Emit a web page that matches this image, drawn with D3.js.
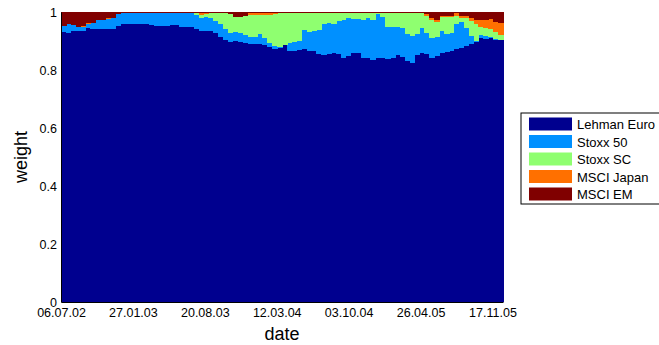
<!DOCTYPE html>
<html>
<head>
<meta charset="utf-8">
<script src="https://cdn.jsdelivr.net/npm/d3@7"></script>
<style>
  body { margin: 0; background: #fff; }
  svg { display: block; font-family: 'Liberation Sans', Arial, sans-serif; }
</style>
</head>
<body>
<svg id="chart" width="659" height="345"></svg>
<script>
// fortnightly portfolio weights, first bar starts 06.07.02
const startDate = '06.07.02';
const stepDays = 14;
const seriesNames = ['Lehman Euro', 'Stoxx 50', 'Stoxx SC', 'MSCI Japan', 'MSCI EM'];
const seriesColors = ['#00008f', '#0090ff', '#8fff70', '#ff7000', '#800000'];
const tickLabels = ['06.07.02', '27.01.03', '20.08.03', '12.03.04', '03.10.04', '26.04.05', '17.11.05'];
const yTicks = [0, 0.2, 0.4, 0.6, 0.8, 1];

const lehman = [0.931, 0.929, 0.933, 0.933, 0.934, 0.945, 0.941, 0.942, 0.942, 0.942,
  0.942, 0.953, 0.957, 0.959, 0.957, 0.959, 0.959, 0.959, 0.955, 0.952,
  0.952, 0.953, 0.955, 0.955, 0.948, 0.948, 0.948, 0.943, 0.936, 0.934,
  0.934, 0.928, 0.914, 0.902, 0.895, 0.900, 0.898, 0.893, 0.888, 0.891,
  0.890, 0.886, 0.878, 0.872, 0.876, 0.886, 0.864, 0.866, 0.869, 0.871,
  0.866, 0.866, 0.855, 0.852, 0.855, 0.859, 0.855, 0.841, 0.848, 0.859,
  0.859, 0.843, 0.840, 0.836, 0.841, 0.841, 0.838, 0.840, 0.852, 0.845,
  0.831, 0.824, 0.852, 0.859, 0.855, 0.841, 0.848, 0.859, 0.862, 0.866,
  0.872, 0.876, 0.884, 0.890, 0.898, 0.910, 0.907, 0.910, 0.905, 0.902];
const stoxx50 = [0.020, 0.028, 0.021, 0.014, 0.016, 0.014, 0.021, 0.031, 0.031, 0.033,
  0.037, 0.040, 0.039, 0.039, 0.040, 0.038, 0.038, 0.038, 0.041, 0.045,
  0.045, 0.043, 0.041, 0.041, 0.048, 0.048, 0.047, 0.045, 0.045, 0.050,
  0.045, 0.041, 0.045, 0.041, 0.033, 0.031, 0.029, 0.028, 0.026, 0.022,
  0.034, 0.024, 0.016, 0.010, 0.002, 0.000, 0.029, 0.029, 0.031, 0.067,
  0.066, 0.069, 0.083, 0.107, 0.107, 0.100, 0.114, 0.131, 0.131, 0.117,
  0.117, 0.128, 0.138, 0.136, 0.153, 0.141, 0.110, 0.109, 0.098, 0.100,
  0.093, 0.093, 0.072, 0.086, 0.072, 0.069, 0.066, 0.076, 0.062, 0.062,
  0.086, 0.090, 0.060, 0.028, 0.003, 0.010, 0.010, 0.003, 0.002, 0.002];
const stoxxSC = [0, 0, 0, 0, 0, 0, 0, 0, 0, 0,
  0, 0, 0, 0, 0, 0, 0, 0, 0, 0,
  0, 0, 0, 0, 0, 0, 0.002, 0.009, 0.009, 0.009,
  0.017, 0.028, 0.038, 0.052, 0.065, 0.052, 0.055, 0.065, 0.076, 0.076,
  0.066, 0.079, 0.096, 0.110, 0.119, 0.109, 0.103, 0.100, 0.097, 0.059,
  0.065, 0.062, 0.059, 0.038, 0.034, 0.038, 0.028, 0.024, 0.017, 0.021,
  0.021, 0.026, 0.019, 0.024, 0.002, 0.014, 0.048, 0.048, 0.047, 0.052,
  0.072, 0.079, 0.072, 0.052, 0.059, 0.062, 0.052, 0.048, 0.060, 0.056,
  0.028, 0.014, 0.034, 0.052, 0.057, 0.028, 0.028, 0.028, 0.024, 0.017];
const msciJapan = [0.001, 0, 0, 0.003, 0.001, 0.002, 0, 0, 0, 0.003,
  0.002, 0, 0.001, 0, 0, 0, 0, 0, 0, 0,
  0, 0, 0, 0, 0, 0, 0, 0, 0.007, 0.003,
  0, 0, 0, 0, 0, 0, 0, 0, 0.007, 0.007,
  0.007, 0.007, 0.007, 0.003, 0, 0.002, 0, 0.002, 0, 0,
  0, 0, 0, 0, 0, 0, 0, 0, 0, 0,
  0, 0, 0, 0, 0, 0, 0, 0, 0, 0,
  0, 0, 0, 0, 0.007, 0.007, 0.007, 0.003, 0.002, 0.002,
  0.010, 0.007, 0.007, 0.010, 0.014, 0.024, 0.028, 0.034, 0.034, 0.041];
const msciEM = [0.048, 0.043, 0.046, 0.049, 0.049, 0.039, 0.038, 0.027, 0.027, 0.022,
  0.019, 0.007, 0.003, 0.002, 0.003, 0.003, 0.003, 0.003, 0.004, 0.003,
  0.003, 0.004, 0.004, 0.004, 0.004, 0.004, 0.003, 0.003, 0.003, 0.004,
  0.004, 0.003, 0.003, 0.005, 0.007, 0.017, 0.018, 0.014, 0.003, 0.004,
  0.003, 0.004, 0.003, 0.005, 0.003, 0.003, 0.004, 0.003, 0.003, 0.003,
  0.003, 0.003, 0.003, 0.003, 0.004, 0.003, 0.003, 0.004, 0.004, 0.003,
  0.003, 0.003, 0.003, 0.004, 0.004, 0.004, 0.004, 0.003, 0.003, 0.003,
  0.004, 0.004, 0.004, 0.003, 0.007, 0.021, 0.027, 0.014, 0.014, 0.014,
  0.004, 0.013, 0.015, 0.020, 0.028, 0.028, 0.027, 0.025, 0.035, 0.038];

const parseDate = d3.utcParse('%d.%m.%y');
const t0 = parseDate(startDate);
const nBars = lehman.length;
const allSeries = [lehman, stoxx50, stoxxSC, msciJapan, msciEM];

const rows = d3.range(nBars).map(i => {
  const row = {date: d3.utcDay.offset(t0, i * stepDays)};
  seriesNames.forEach((name, k) => { row[name] = allSeries[k][i]; });
  return row;
});

const margin = {left: 61, top: 12, right: 156, bottom: 43};
const width = 659 - margin.left - margin.right;
const height = 345 - margin.top - margin.bottom;

const sx = d3.scaleUtc()
  .domain([t0, d3.utcDay.offset(t0, nBars * stepDays)])
  .range([0, width]);
const sy = d3.scaleLinear()
  .domain([0, 1])
  .range([height, 0]);
const color = d3.scaleOrdinal().domain(seriesNames).range(seriesColors);

const stacked = d3.stack().keys(seriesNames)(rows);

const svg = d3.select('#chart');
const g = svg.append('g')
  .attr('transform', `translate(${margin.left},${margin.top})`);

g.selectAll('g.layer')
  .data(stacked)
  .join('g')
  .attr('class', 'layer')
  .attr('fill', d => color(d.key))
  .selectAll('rect')
  .data(d => d)
  .join('rect')
  .attr('shape-rendering', 'crispEdges')
  .attr('x', d => sx(d.data.date))
  .attr('width', d => sx(d3.utcDay.offset(d.data.date, stepDays)) - sx(d.data.date) + 0.6)
  .attr('y', d => sy(d[1]))
  .attr('height', d => Math.max(0, sy(d[0]) - sy(d[1])));

const xAxis = d3.axisBottom(sx)
  .tickValues(tickLabels.map(parseDate))
  .tickFormat(d3.utcFormat('%d.%m.%y'))
  .tickSize(0)
  .tickPadding(6);
const yAxis = d3.axisLeft(sy)
  .tickValues(yTicks)
  .tickFormat(d3.format('~g'))
  .tickSize(0)
  .tickPadding(4);

const gx = g.append('g')
  .attr('transform', `translate(0,${height})`)
  .call(xAxis);
const gy = g.append('g').call(yAxis);

[gx, gy].forEach(a => {
  a.select('.domain').attr('stroke', '#000').attr('stroke-width', 1);
  a.selectAll('text')
    .attr('fill', '#000')
    .style('font-size', '12.5px')
    .style('font-family', '\'Liberation Sans\', Arial, sans-serif');
});

svg.append('text')
  .attr('x', margin.left + width / 2)
  .attr('y', 340)
  .attr('text-anchor', 'middle')
  .style('font-size', '18px')
  .text('date');

svg.append('text')
  .attr('transform', `translate(27,${margin.top + height / 2}) rotate(-90)`)
  .attr('text-anchor', 'middle')
  .style('font-size', '18px')
  .text('weight');

// legend box runs past the right edge, as in the original
const legend = svg.append('g').attr('transform', 'translate(521,113)');
legend.append('rect')
  .attr('width', 160)
  .attr('height', 91)
  .attr('fill', '#fff')
  .attr('stroke', '#000')
  .attr('stroke-width', 1);

const item = legend.selectAll('g.item')
  .data(seriesNames)
  .join('g')
  .attr('class', 'item')
  .attr('transform', (d, i) => `translate(8,${4.5 + i * 17.5})`);
item.append('rect')
  .attr('width', 43)
  .attr('height', 13)
  .attr('fill', d => color(d));
item.append('text')
  .attr('x', 48)
  .attr('y', 11.5)
  .style('font-size', '13px')
  .text(d => d);
</script>
</body>
</html>
